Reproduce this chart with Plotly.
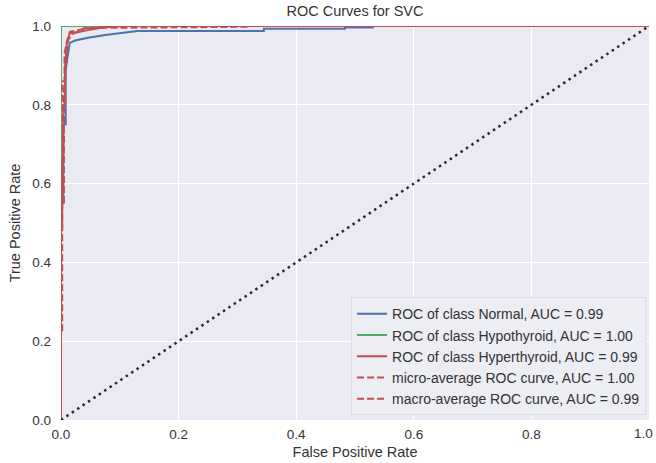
import plotly.graph_objects as go

# Data
normal_fpr = [0, 0, 0.004, 0.004, 0.008, 0.008, 0.012, 0.015, 0.024, 0.046, 0.075, 0.104, 0.13, 0.345, 0.345, 0.483, 0.483, 0.53, 0.53, 1]
normal_tpr = [0, 0.55, 0.55, 0.75, 0.75, 0.888, 0.93, 0.957, 0.963, 0.97, 0.977, 0.983, 0.987, 0.987, 0.993, 0.993, 0.996, 0.996, 1, 1]

hypo_fpr = [0, 0, 1]
hypo_tpr = [0, 1, 1]

hyper_fpr = [0, 0, 0.002, 0.002, 0.004, 0.004, 0.007, 0.007, 0.01, 0.015, 0.024, 0.046, 0.075, 0.1, 1]
hyper_tpr = [0, 0.49, 0.49, 0.66, 0.66, 0.8, 0.8, 0.896, 0.957, 0.982, 0.983, 0.99, 0.997, 1, 1]

micro_fpr = [0, 0, 0.003, 0.003, 0.006, 0.006, 0.01, 0.015, 0.03, 0.05, 0.08, 0.11, 1]
micro_tpr = [0, 0.65, 0.65, 0.86, 0.86, 0.93, 0.96, 0.985, 0.99, 0.995, 0.998, 1, 1]

macro_fpr = [0, 0, 0.002, 0.002, 0.005, 0.005, 0.008, 0.012, 0.02, 0.04, 0.32, 0.32, 1]
macro_tpr = [0, 0.22, 0.22, 0.55, 0.55, 0.82, 0.9, 0.965, 0.98, 0.995, 0.998, 1, 1]

diag = [0, 1]

tick_vals = [0, 0.2, 0.4, 0.6, 0.8, 1.0]
tick_text = ["0.0", "0.2", "0.4", "0.6", "0.8", "1.0"]

series = [
    ("ROC of class Normal, AUC = 0.99", normal_fpr, normal_tpr, "#4C72B0", "solid"),
    ("ROC of class Hypothyroid, AUC = 1.00", hypo_fpr, hypo_tpr, "#55A868", "solid"),
    ("ROC of class Hyperthyroid, AUC = 0.99", hyper_fpr, hyper_tpr, "#C44E52", "solid"),
    ("micro-average ROC curve, AUC = 1.00", micro_fpr, micro_tpr, "#C44E52", "7px,3px"),
    ("macro-average ROC curve, AUC = 0.99", macro_fpr, macro_tpr, "#C44E52", "7px,3px"),
]

FONT = "Liberation Sans, Arial, sans-serif"
TICK_FONT = dict(size=13.5, color="#333", family=FONT)

fig = go.Figure()
for name, x, y, c, d in series:
    fig.add_trace(go.Scatter(x=x, y=y, mode="lines", name=name,
                             line=dict(color=c, width=2, dash=d)))
fig.add_trace(go.Scatter(x=diag, y=diag, mode="lines", showlegend=False,
                         line=dict(color="#2a2a2a", width=2.5, dash="2.5px,4px")))

axis_common = dict(range=[0, 1], tickvals=tick_vals,
                   showgrid=True, gridcolor="white", gridwidth=1.2,
                   zeroline=False, showline=False, ticks="", automargin=False,
                   ticklabeloverflow="allow", tickfont=TICK_FONT)

# last x tick label would be cut by the page edge: draw it right-anchored instead
x_ticktext = tick_text[:-1] + [""]

fig.update_layout(
    width=656, height=463,
    margin=dict(l=61, r=7, t=26, b=43),
    paper_bgcolor="white", plot_bgcolor="#EAEAF2",
    font=dict(family=FONT, color="#333"),
    title=dict(text="ROC Curves for SVC", x=(61 + 649) / 2 / 656, xanchor="center",
               y=1 - 11 / 463, yanchor="middle", font=dict(size=14.5, color="#333")),
    xaxis=dict(title=dict(text="False Positive Rate", font=dict(size=14.5), standoff=6),
               ticklabelstandoff=4, ticktext=x_ticktext, **axis_common),
    yaxis=dict(title=dict(text="True Positive Rate", font=dict(size=14.5), standoff=8),
               ticklabelstandoff=9, ticktext=tick_text, **axis_common),
    legend=dict(x=0.995, y=0.012, xanchor="right", yanchor="bottom",
                bgcolor="#EDEDF4", bordercolor="#DCDCE4", borderwidth=1,
                font=dict(size=14, color="#333", family=FONT),
                tracegroupgap=0, itemwidth=30),
)
fig.add_annotation(x=tick_vals[-1], y=0, xref="x", yref="paper", text=tick_text[-1],
                   showarrow=False, xanchor="right", yanchor="top", xshift=6, yshift=-4,
                   font=TICK_FONT)

fig.write_html("out.html", config={"displayModeBar": False},
               post_script="document.body.style.margin='0';document.body.style.overflow='hidden';")
